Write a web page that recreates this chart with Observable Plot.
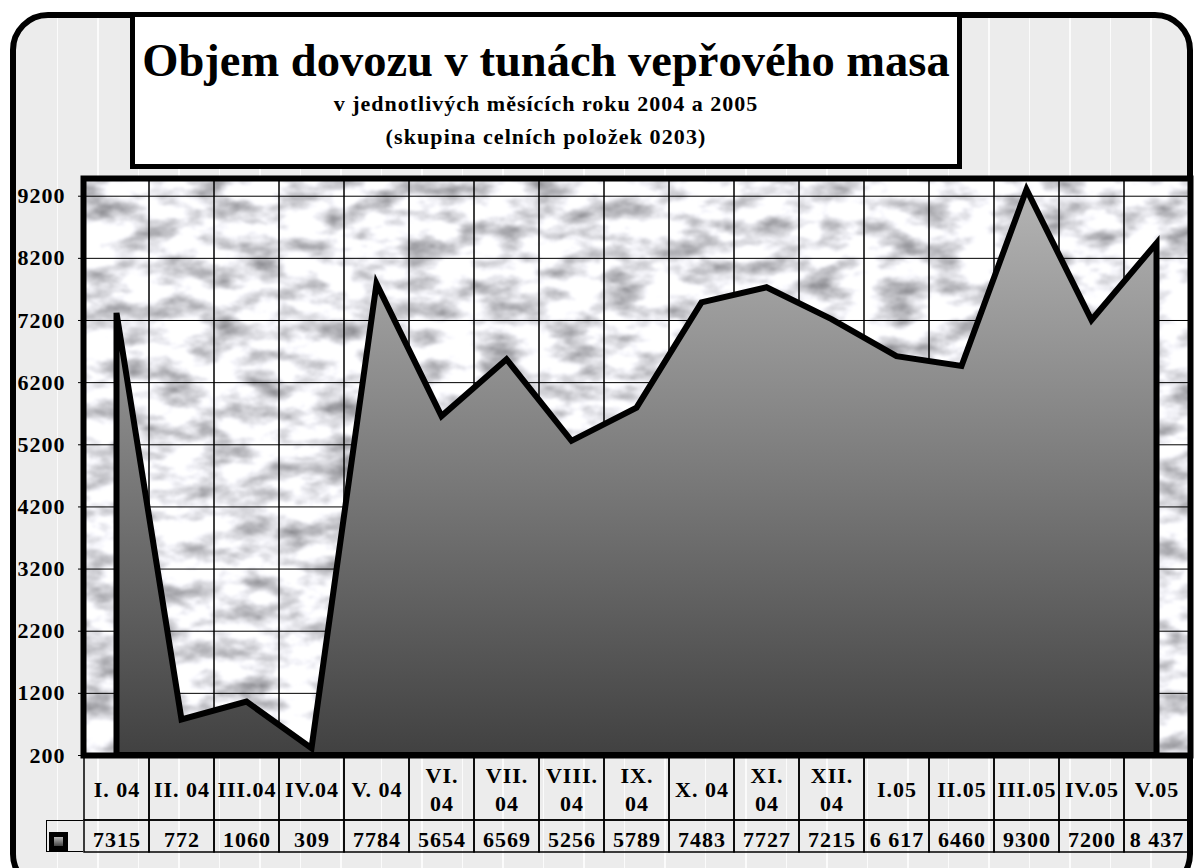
<!DOCTYPE html>
<html>
<head>
<meta charset="utf-8">
<script src="https://cdn.jsdelivr.net/npm/d3@7"></script>
<script src="https://cdn.jsdelivr.net/npm/@observablehq/plot@0.6"></script>
<style>
  html, body { margin: 0; padding: 0; background: #fff; }
  #wrap { position: relative; width: 1194px; height: 868px; overflow: hidden;
          font-family: "Liberation Serif", "Times New Roman", serif; font-weight: bold; color: #000; }
  #outer { position: absolute; left: 10px; top: 12px; width: 1183px; height: 880px; box-sizing: border-box;
           border: 6px solid #000; border-radius: 38px; background-color: #ececec;
           background-image: repeating-linear-gradient(90deg, rgba(255,255,255,0) 0px, rgba(255,255,255,0) 39px, #fbfbfb 39px, #fbfbfb 40.5px);
           background-position: 2px 0; }
  #titlebox { position: absolute; left: 130px; top: 12px; width: 832px; height: 157px; box-sizing: border-box;
              border: 5px solid #000; background: #fff; }
  .t { position: absolute; left: 130px; width: 832px; text-align: center; white-space: nowrap; line-height: 1; }
  #title { font-size: 46.5px; top: 38px; }
  #sub1 { font-size: 22px; top: 92.5px; letter-spacing: 1px; }
  #sub2 { font-size: 22px; top: 125.5px; letter-spacing: 1.1px; }
  .abs { position: absolute; left: 0; }
  #keycell { position: absolute; left: 46px; top: 820px; width: 37px; height: 32px; box-sizing: border-box;
             border-left: 1.5px solid #000; border-top: 1.5px solid #000; border-bottom: 1.5px solid #000; }
  #key { position: absolute; left: 49px; top: 832px; width: 19px; height: 19px; background: #000; }
  #key div { position: absolute; left: 5px; top: 5px; width: 9px; height: 9px;
             background: linear-gradient(#b8b8b8, #444); }
</style>
</head>
<body>
<div id="wrap">
  <div id="outer"></div>
  <div id="titlebox"></div>
  <div class="t" id="title">Objem dovozu v tunách vepřového masa</div>
  <div class="t" id="sub1">v jednotlivých měsících roku 2004 a 2005</div>
  <div class="t" id="sub2">(skupina celních položek 0203)</div>
  <div class="abs" id="mainplot" style="top:0"></div>
  <div class="abs" id="labelrow" style="top:755px"></div>
  <div class="abs" id="valuerow" style="top:820px"></div>
  <div id="keycell"></div>
  <div id="key"><div></div></div>
</div>
<script>
// ---- data ----
const months = ["I. 04","II. 04","III.04","IV.04","V. 04","VI.\n04","VII.\n04","VIII.\n04","IX.\n04","X. 04","XI.\n04","XII.\n04","I.05","II.05","III.05","IV.05","V.05"];
const values = [7315, 772, 1060, 309, 7784, 5654, 6569, 5256, 5789, 7483, 7727, 7215, 6617, 6460, 9300, 7200, 8437];
const valueLabels = ["7315","772","1060","309","7784","5654","6569","5256","5789","7483","7727","7215","6 617","6460","9300","7200","8 437"];
const yTicks = [200, 1200, 2200, 3200, 4200, 5200, 6200, 7200, 8200, 9200];

const data = months.map((m, i) => ({month: m, value: values[i], label: valueLabels[i]}));
const font = "Liberation Serif, Times New Roman, serif";
const common = {
  width: 1194, marginLeft: 83, marginRight: 4,
  style: {background: "transparent", fontFamily: font, fontWeight: "bold", color: "#000",
          overflow: "visible", letterSpacing: "1px"}
};
const xScale = {type: "band", domain: months, padding: 0, axis: null};

const main = Plot.plot({
  ...common,
  height: 760, marginTop: 178, marginBottom: 5,
  x: xScale,
  y: {domain: [200, 9485], axis: null},
  marks: [
    Plot.frame({fill: "#fff"}),
    Plot.gridY(yTicks, {stroke: "#000", strokeOpacity: 1, strokeWidth: 1}),
    Plot.cell(months, {x: d => d, stroke: "#000", strokeWidth: 1, fill: "none"}),
    Plot.areaY(data, {x: "month", y1: 200, y2: "value", fill: "url(#areaGrad)", stroke: "#000",
                      strokeWidth: 6, strokeLinejoin: "miter", strokeMiterlimit: 6}),
    Plot.axisY(yTicks, {tickSize: 5, tickPadding: 13, tickFormat: d => String(d), fontSize: 22,
                        fontWeight: "bold", stroke: "#000", label: null}),
    Plot.frame({stroke: "#000", strokeWidth: 6})
  ]
});

const svg = d3.select(main);
const defs = svg.insert("defs", ":first-child");
const grad = defs.append("linearGradient").attr("id", "areaGrad")
  .attr("x1", 0).attr("y1", 0).attr("x2", 0).attr("y2", 1);
grad.append("stop").attr("offset", "0%").attr("stop-color", "#b4b4b4");
grad.append("stop").attr("offset", "100%").attr("stop-color", "#414141");
const filt = defs.append("filter").attr("id", "marble")
  .attr("x", 0).attr("y", 0).attr("width", 1).attr("height", 1)
  .attr("color-interpolation-filters", "sRGB");
filt.append("feTurbulence").attr("type", "fractalNoise").attr("baseFrequency", "0.025 0.05")
  .attr("numOctaves", 5).attr("seed", 11).attr("result", "n");
filt.append("feColorMatrix").attr("in", "n").attr("type", "matrix")
  .attr("values", "0.95 0 0 0 0.44  0.95 0 0 0 0.44  0.95 0 0 0 0.46  0 0 0 0 1").attr("result", "g");
filt.append("feGaussianBlur").attr("in", "g").attr("stdDeviation", 0.8).attr("result", "b");
filt.append("feComposite").attr("in", "b").attr("in2", "SourceGraphic").attr("operator", "in");
svg.select('[aria-label="frame"]').attr("filter", "url(#marble)");
document.getElementById("mainplot").appendChild(main);

const labelRow = Plot.plot({
  ...common,
  height: 66, marginTop: 0, marginBottom: 1,
  x: xScale,
  marks: [
    Plot.cell(months, {x: d => d, stroke: "#000", strokeWidth: 1.5, fill: "none"}),
    Plot.text(months, {x: d => d, text: d => d, frameAnchor: "middle", fontSize: 22, fontWeight: "bold",
                       lineHeight: 1.27, fill: "#000"})
  ]
});
document.getElementById("labelrow").appendChild(labelRow);

const valueRow = Plot.plot({
  ...common,
  height: 33, marginTop: 0, marginBottom: 1,
  x: xScale,
  marks: [
    Plot.cell(data, {x: "month", stroke: "#000", strokeWidth: 1.5, fill: "none"}),
    Plot.text(data, {x: "month", text: "label", frameAnchor: "middle", dy: 3, fontSize: 22,
                     fontWeight: "bold", fill: "#000"})
  ]
});
document.getElementById("valuerow").appendChild(valueRow);
</script>
</body>
</html>
